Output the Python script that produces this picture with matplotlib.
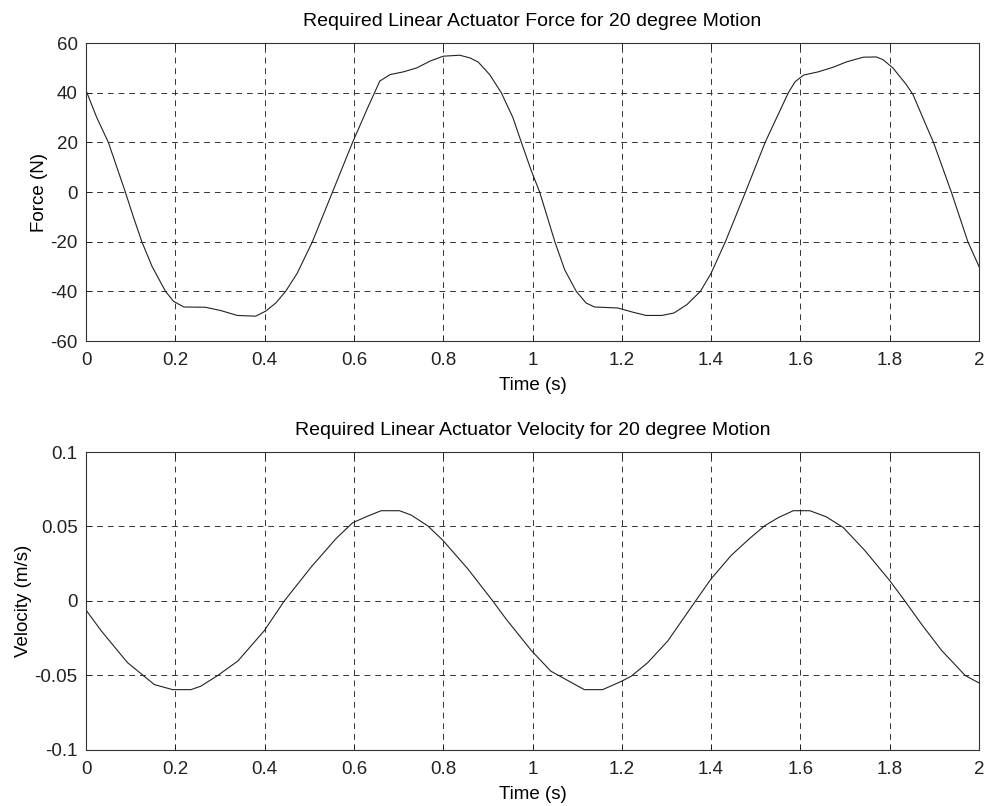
import matplotlib
matplotlib.use("Agg")
import matplotlib.pyplot as plt

plt.rcParams['font.family'] = ['Liberation Sans', 'DejaVu Sans']
plt.rcParams['axes.unicode_minus'] = False

# Force curve (time s, force N)
force_t = [0.0, 0.024, 0.050, 0.069, 0.088, 0.106, 0.125, 0.148, 0.178, 0.196, 0.219,
           0.267, 0.301, 0.339, 0.380, 0.402, 0.425, 0.447, 0.473, 0.507, 0.552, 0.597,
           0.631, 0.658, 0.681, 0.711, 0.741, 0.770, 0.800, 0.837, 0.860, 0.878, 0.904,
           0.930, 0.956, 0.975, 0.997, 1.016, 1.050, 1.072, 1.098, 1.120, 1.139, 1.191,
           1.225, 1.254, 1.290, 1.317, 1.346, 1.376, 1.400, 1.432, 1.477, 1.521, 1.547,
           1.573, 1.588, 1.607, 1.640, 1.674, 1.703, 1.741, 1.770, 1.785, 1.807, 1.837,
           1.852, 1.874, 1.898, 1.938, 1.975, 2.0]
force_v = [40.9, 30.0, 20.0, 10.0, 0.0, -10.0, -20.0, -30.0, -40.0, -44.0, -46.3,
           -46.4, -47.7, -49.7, -50.0, -48.0, -44.7, -40.0, -32.7, -20.0, 0.0, 20.0,
           34.0, 44.7, 47.3, 48.4, 50.0, 52.7, 54.7, 55.1, 54.0, 52.4, 47.3,
           40.0, 30.0, 20.0, 8.7, 0.0, -20.0, -31.3, -40.0, -44.7, -46.3, -46.7,
           -48.4, -49.7, -49.7, -48.7, -45.3, -40.0, -32.7, -20.0, 0.0, 20.0, 30.0,
           40.0, 44.4, 47.1, 48.4, 50.3, 52.4, 54.3, 54.4, 53.3, 50.0, 43.3,
           39.3, 30.0, 20.0, 0.0, -20.0, -30.0]

# Velocity curve (time s, velocity m/s)
vel_t = [0.0, 0.034, 0.093, 0.153, 0.194, 0.235, 0.257, 0.295, 0.340, 0.399, 0.444,
         0.504, 0.560, 0.597, 0.631, 0.661, 0.702, 0.728, 0.765, 0.799, 0.855, 0.911,
         0.941, 0.997, 1.041, 1.116, 1.157, 1.200, 1.221, 1.258, 1.303, 1.363, 1.400,
         1.445, 1.486, 1.520, 1.550, 1.584, 1.621, 1.658, 1.696, 1.744, 1.800, 1.834,
         1.871, 1.916, 1.969, 2.0]
vel_v = [-0.0061, -0.020, -0.0414, -0.0561, -0.0595, -0.0595, -0.0572, -0.050, -0.0403,
         -0.020, 0.0, 0.0227, 0.0419, 0.0525, 0.057, 0.0606, 0.0606, 0.0577, 0.0505,
         0.0408, 0.0216, 0.0, -0.0122, -0.0331, -0.0471, -0.0595, -0.0595, -0.0538,
         -0.0505, -0.0414, -0.0268, -0.0009, 0.0149, 0.0306, 0.0419, 0.0505, 0.0559,
         0.0606, 0.0606, 0.0565, 0.0493, 0.034, 0.0137, 0.0, -0.0155, -0.0331, -0.050,
         -0.055]

x_ticks = [0, 0.2, 0.4, 0.6, 0.8, 1, 1.2, 1.4, 1.6, 1.8, 2]
x_ticklabels = ['0', '0.2', '0.4', '0.6', '0.8', '1', '1.2', '1.4', '1.6', '1.8', '2']
force_ticks = [-60, -40, -20, 0, 20, 40, 60]
vel_ticks = [-0.1, -0.05, 0, 0.05, 0.1]
vel_ticklabels = ['-0.1', '-0.05', '0', '0.05', '0.1']

titles = ['Required Linear Actuator Force for 20 degree Motion',
          'Required Linear Actuator Velocity for 20 degree Motion']
ylabels = ['Force (N)', 'Velocity (m/s)']

fig = plt.figure(figsize=(9.9, 8.06), dpi=100)
ax1 = fig.add_axes([0.0869, 0.5769, 0.902, 0.3697])
ax2 = fig.add_axes([0.0869, 0.0695, 0.902, 0.3697])

def style(ax):
    ax.set_xlim(0, 2)
    ax.set_xticks(x_ticks)
    ax.set_xticklabels(x_ticklabels)
    ax.grid(True, linestyle=(0, (6, 5)), color='#333333', linewidth=0.7)
    ax.tick_params(axis='both', direction='in', length=4, width=0.7, top=True, right=True,
                   labelsize=13.5, colors='#222222')
    ax.tick_params(axis='x', pad=8)
    ax.tick_params(axis='y', pad=6)
    for s in ax.spines.values():
        s.set_linewidth(0.8)
        s.set_color('#333333')
    ax.set_xlabel('Time (s)', fontsize=13.5, labelpad=6)

ax1.plot(force_t, force_v, color='#222222', linewidth=0.8)
style(ax1)
ax1.set_ylim(-60, 60)
ax1.set_yticks(force_ticks)
ax1.set_ylabel(ylabels[0], fontsize=13.5, labelpad=2)
ax1.set_title(titles[0], fontsize=14, pad=12)

ax2.plot(vel_t, vel_v, color='#222222', linewidth=0.8)
style(ax2)
ax2.set_ylim(-0.1, 0.1)
ax2.set_yticks(vel_ticks)
ax2.set_yticklabels(vel_ticklabels)
ax2.set_ylabel(ylabels[1], fontsize=13.5, labelpad=2)
ax2.set_title(titles[1], fontsize=14, pad=12)

fig.savefig('out.png', dpi=100)
